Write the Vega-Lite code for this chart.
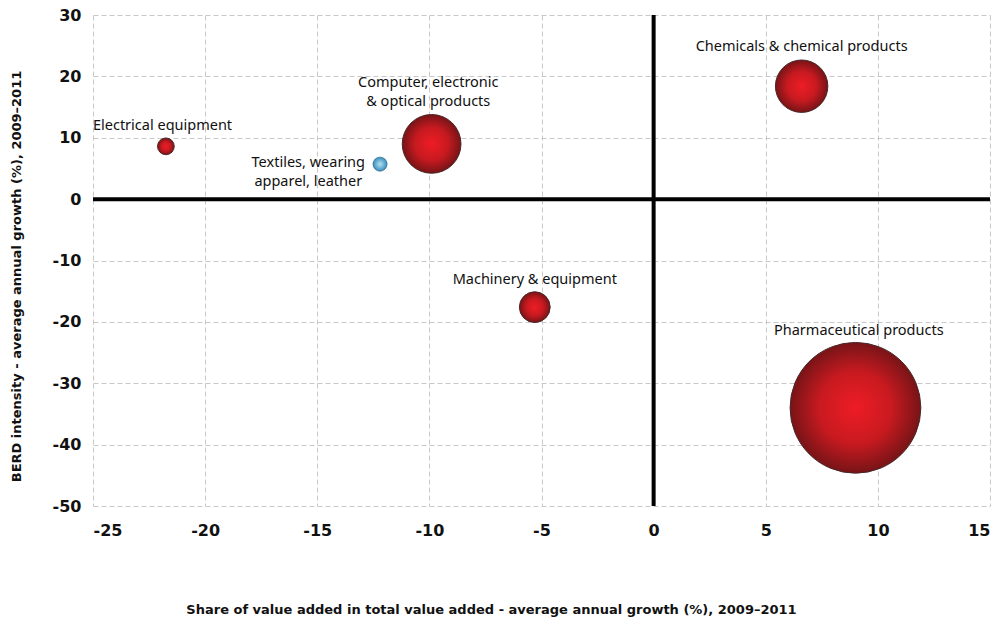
{
  "$schema": "https://vega.github.io/schema/vega-lite/v6.json",
  "width": 897,
  "height": 491,
  "autosize": {"type": "none"},
  "padding": {"left": 93, "top": 15, "right": 12, "bottom": 114},
  "background": "white",
  "config": {"view": {"stroke": null}},
  "datasets": {
    "sectors": [
      {"sector": "Electrical equipment", "va": -21.75, "berd": 8.6, "weight": 280, "kind": "red"},
      {"sector": "Textiles, wearing apparel, leather", "va": -12.2, "berd": 5.7, "weight": 196, "kind": "blue"},
      {"sector": "Computer, electronic & optical products", "va": -9.9, "berd": 9.0, "weight": 3450, "kind": "red"},
      {"sector": "Machinery & equipment", "va": -5.3, "berd": -17.6, "weight": 950, "kind": "red"},
      {"sector": "Chemicals & chemical products", "va": 6.6, "berd": 18.4, "weight": 2750, "kind": "red"},
      {"sector": "Pharmaceutical products", "va": 9.0, "berd": -34.0, "weight": 17100, "kind": "red"}
    ],
    "labels": [
      {"text": ["Electrical equipment"], "lx": -21.9, "ly": 11.85},
      {"text": ["Computer, electronic", "& optical products"], "lx": -10.05, "ly": 18.9},
      {"text": ["Textiles, wearing", "apparel, leather"], "lx": -15.4, "ly": 5.9},
      {"text": ["Machinery & equipment"], "lx": -5.3, "ly": -13.15},
      {"text": ["Chemicals & chemical products"], "lx": 6.6, "ly": 24.75},
      {"text": ["Pharmaceutical products"], "lx": 9.15, "ly": -21.45}
    ]
  },
  "layer": [
    {
      "data": {"name": "sectors"},
      "transform": [{"filter": "datum.kind === 'red'"}],
      "mark": {
        "type": "circle",
        "opacity": 1,
        "stroke": "#4a2626",
        "strokeWidth": 1,
        "fill": {
          "gradient": "radial",
          "x1": 0.5, "y1": 0.5, "r1": 0,
          "x2": 0.5, "y2": 0.5, "r2": 0.5,
          "stops": [
            {"offset": 0, "color": "#ee1c25"},
            {"offset": 0.55, "color": "#c81a20"},
            {"offset": 1, "color": "#771417"}
          ]
        }
      },
      "encoding": {
        "x": {
          "field": "va", "type": "quantitative",
          "scale": {"domain": [-25, 15], "nice": false, "zero": false},
          "axis": {
            "values": [-25, -20, -15, -10, -5, 0, 5, 10, 15],
            "labelExpr": "'' + datum.value",
            "title": "Share of value added in total value added - average annual growth (%), 2009–2011",
            "domain": false, "ticks": false,
            "grid": true, "gridColor": "#c8c8c8", "gridDash": [5, 3], "gridWidth": 1,
            "labelFont": "DejaVu Sans", "labelFontWeight": "bold", "labelFontSize": 16, "labelColor": "#111",
            "labelPadding": 16,
            "titleFont": "DejaVu Sans", "titleFontWeight": "bold", "titleFontSize": 13, "titleColor": "#111",
            "titleX": 398, "titleY": 103, "titleBaseline": "middle", "titleAlign": "center"
          }
        },
        "y": {
          "field": "berd", "type": "quantitative",
          "scale": {"domain": [-50, 30], "nice": false, "zero": false},
          "axis": {
            "values": [-50, -40, -30, -20, -10, 0, 10, 20, 30],
            "labelExpr": "'' + datum.value",
            "title": "BERD intensity - average annual growth (%), 2009–2011",
            "domain": false, "ticks": false,
            "grid": true, "gridColor": "#c8c8c8", "gridDash": [5, 3], "gridWidth": 1,
            "labelFont": "DejaVu Sans", "labelFontWeight": "bold", "labelFontSize": 16, "labelColor": "#111",
            "labelPadding": 12,
            "titleFont": "DejaVu Sans", "titleFontWeight": "bold", "titleFontSize": 13, "titleColor": "#111",
            "titleAngle": -90, "titleX": -77, "titleY": 261, "titleBaseline": "middle", "titleAlign": "center"
          }
        },
        "size": {
          "field": "weight", "type": "quantitative",
          "scale": {"domain": [0, 17100], "range": [0, 17100]},
          "legend": null
        }
      }
    },
    {
      "data": {"name": "sectors"},
      "transform": [{"filter": "datum.kind === 'blue'"}],
      "mark": {
        "type": "circle",
        "opacity": 1,
        "stroke": "#2f6f90",
        "strokeWidth": 0.8,
        "fill": {
          "gradient": "radial",
          "x1": 0.5, "y1": 0.5, "r1": 0,
          "x2": 0.5, "y2": 0.5, "r2": 0.5,
          "stops": [
            {"offset": 0, "color": "#b5e2f2"},
            {"offset": 1, "color": "#3a8dbd"}
          ]
        }
      },
      "encoding": {
        "x": {"field": "va", "type": "quantitative"},
        "y": {"field": "berd", "type": "quantitative"},
        "size": {"field": "weight", "type": "quantitative", "legend": null}
      }
    },
    {
      "data": {"values": [{"v": 0}]},
      "mark": {"type": "rule", "color": "#000", "strokeWidth": 4},
      "encoding": {"x": {"field": "v", "type": "quantitative"}}
    },
    {
      "data": {"values": [{"v": 0}]},
      "mark": {"type": "rule", "color": "#000", "strokeWidth": 4},
      "encoding": {"y": {"field": "v", "type": "quantitative"}}
    },
    {
      "data": {"name": "labels"},
      "mark": {
        "type": "text",
        "font": "Noto Sans",
        "fontSize": 14.5,
        "color": "#111",
        "align": "center",
        "baseline": "middle",
        "lineHeight": 19
      },
      "encoding": {
        "x": {"field": "lx", "type": "quantitative"},
        "y": {"field": "ly", "type": "quantitative"},
        "text": {"field": "text"}
      }
    }
  ]
}
